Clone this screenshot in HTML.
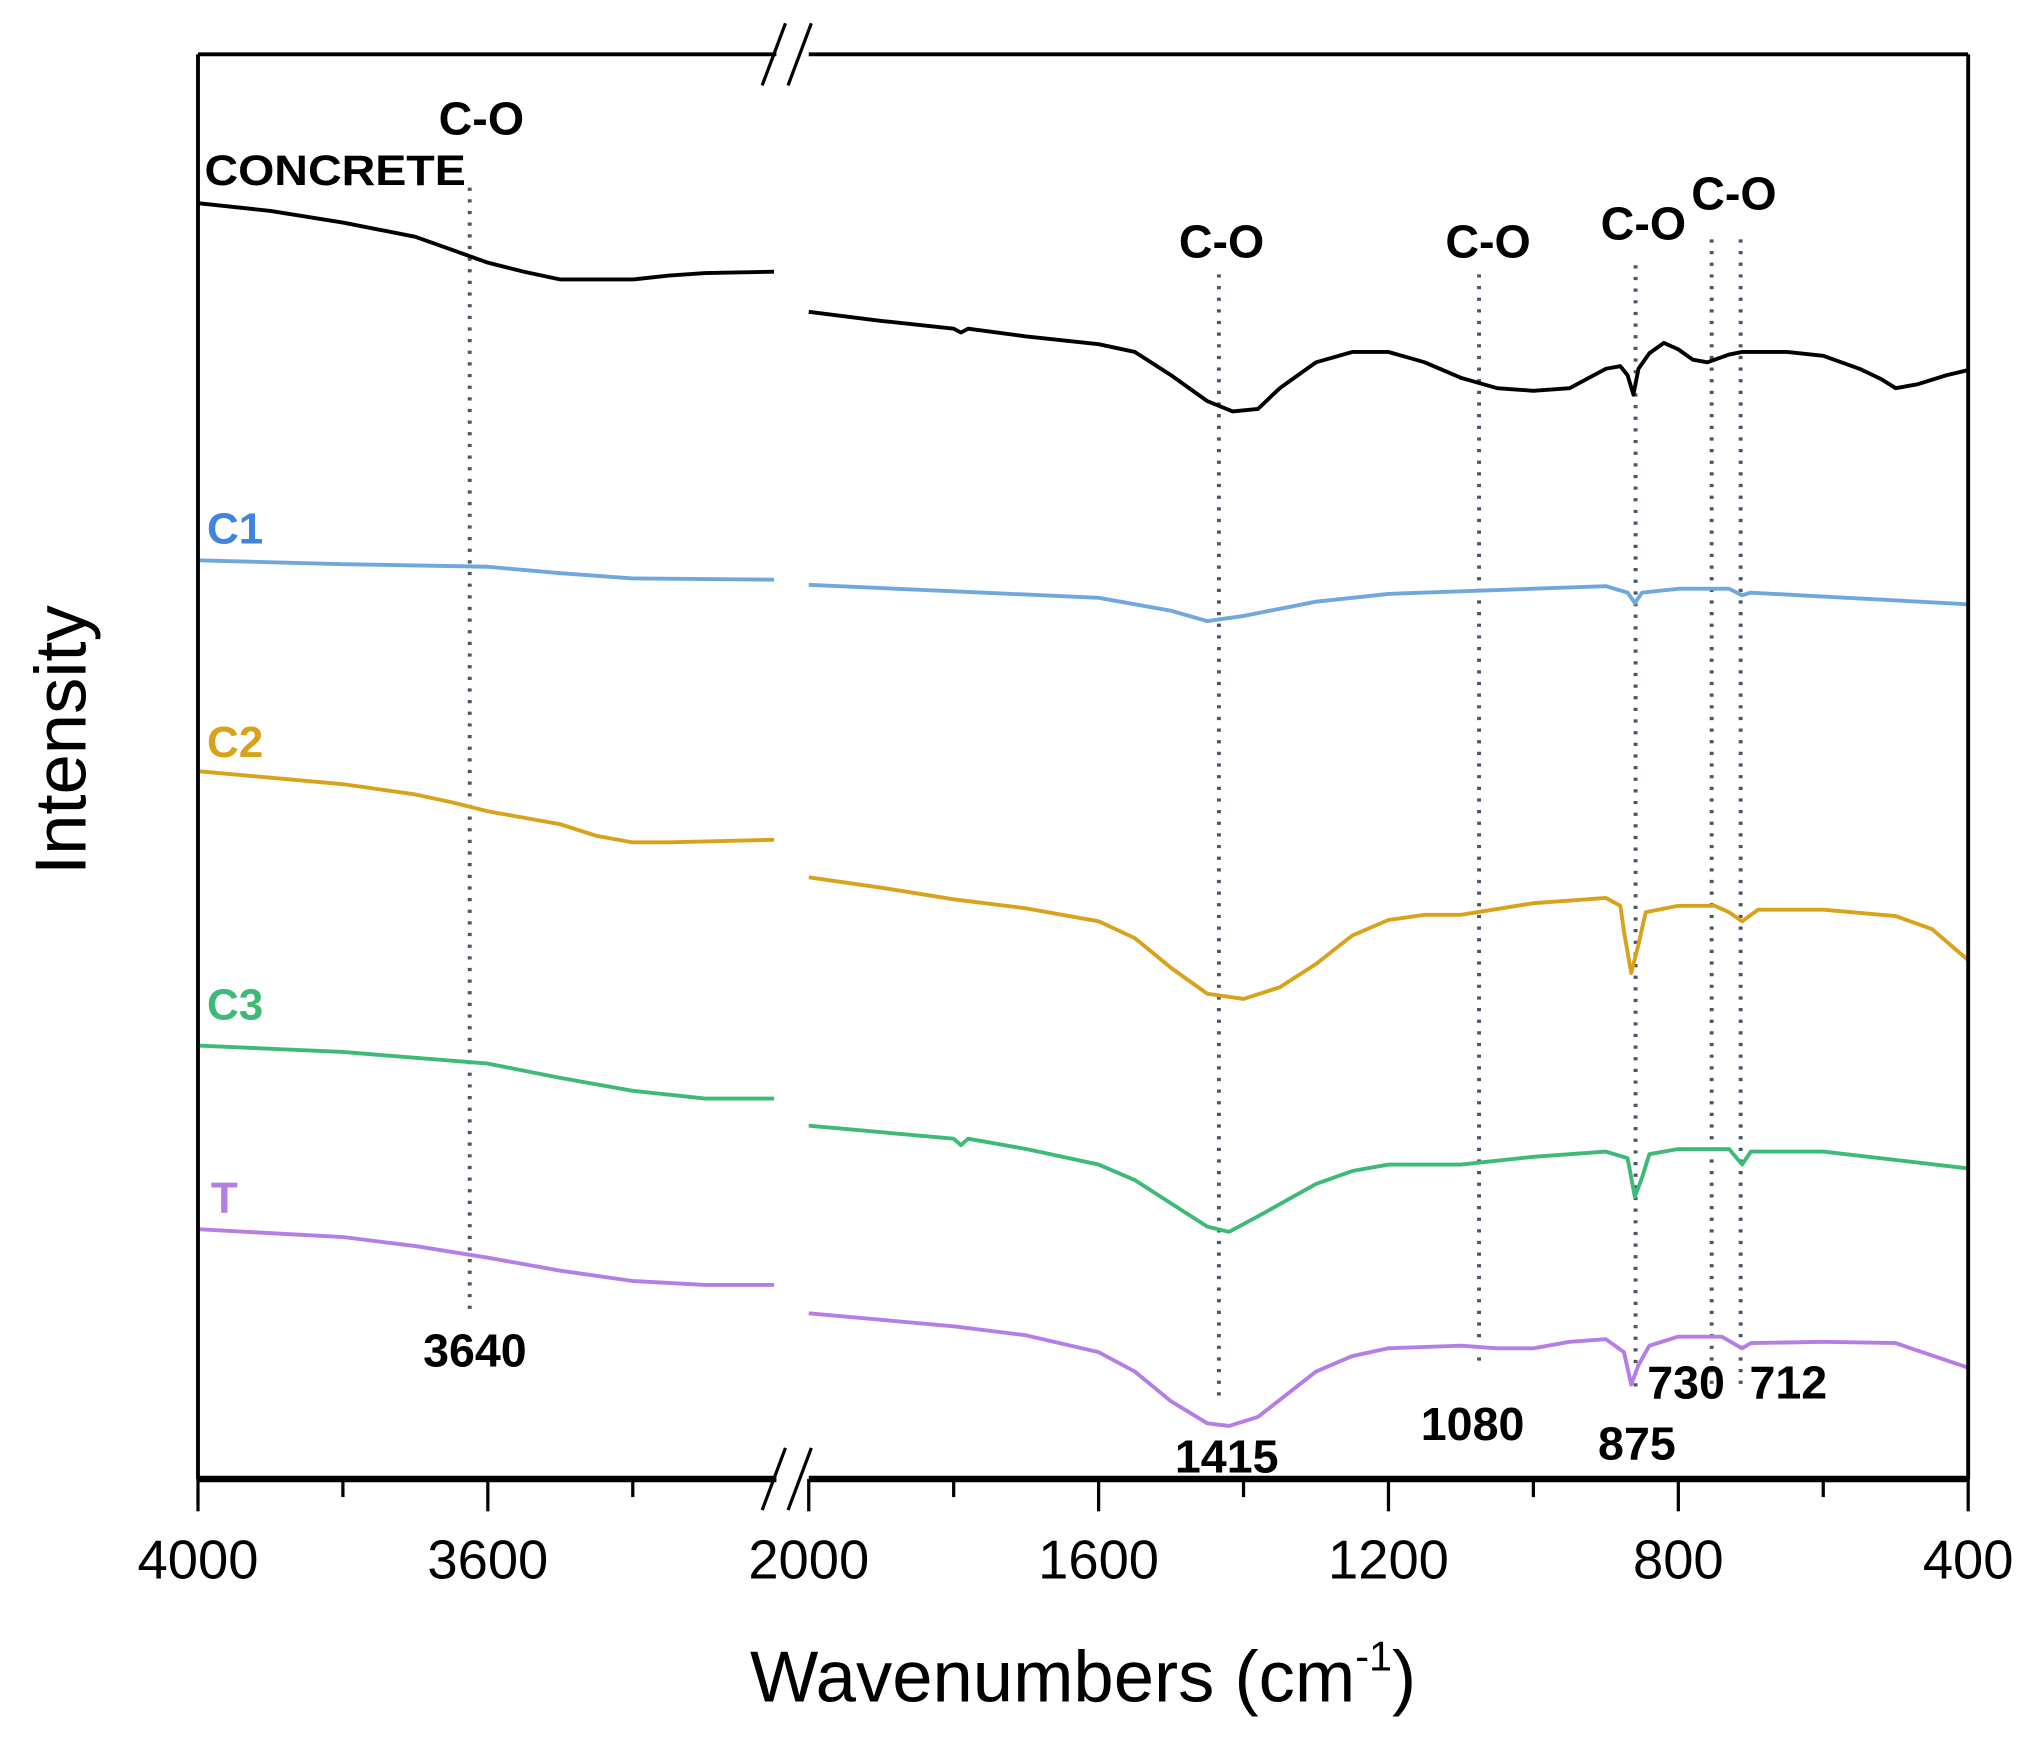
<!DOCTYPE html>
<html><head><meta charset="utf-8"><style>
html,body{margin:0;padding:0;background:#fff;}
svg{display:block;}
text{font-family:"Liberation Sans",sans-serif;}
</style></head><body>
<svg id="chart" width="2029" height="1752" viewBox="0 0 1568 1354" preserveAspectRatio="none" xmlns="http://www.w3.org/2000/svg">
<rect x="0" y="0" width="1568" height="1354" fill="#fff"/>
<g id="plot"></g>
</svg>
<script>
// x positions (wavenumbers) and intensity values (height above axis, arbitrary units)
const concreteLeftX = [4000,3900,3800,3700,3650,3600,3550,3500,3450,3400,3350,3300,3205];
const concreteLeftY = [986,980,971,960,950,940,933,927,927,927,930,932,933];
const concreteRightX = [2000,1900,1800,1790,1780,1700,1600,1550,1500,1450,1415,1380,1350,1300,1250,1200,1150,1100,1050,1000,950,900,880,870,862,855,840,820,800,780,760,730,712,650,600,550,520,500,470,430,400];
const concreteRightY = [902,895,889,886,889,883,877,871,853,833,825,827,843,863,871,871,863,851,843,841,843,858,860,853,838,858,870,878,873,865,863,869,871,871,868,858,850,843,846,853,857];
const c1LeftX = [4000,3800,3600,3500,3400,3205];
const c1LeftY = [710,707,705,700,696,695];
const c1RightX = [2000,1800,1600,1500,1450,1400,1300,1200,1000,900,870,860,850,800,730,712,700,600,400];
const c1RightY = [691,686,681,671,663,667,678,684,688,690,685,677,685,688,688,683,685,682,676];
const c2LeftX = [4000,3900,3800,3700,3650,3600,3500,3450,3400,3350,3205];
const c2LeftY = [547,542,537,529,523,516,506,497,492,492,494];
const c2RightX = [2000,1900,1800,1700,1600,1550,1500,1450,1400,1350,1300,1250,1200,1150,1100,1000,900,880,875,865,855,845,800,750,730,712,690,600,500,450,400];
const c2RightY = [465,457,448,441,431,418,395,375,371,380,398,420,432,436,436,445,449,443,423,391,413,438,443,443,438,431,440,440,435,425,401];
const c3LeftX = [4000,3800,3600,3500,3400,3300,3205];
const c3LeftY = [335,330,321,310,300,294,294];
const c3RightX = [2000,1800,1790,1780,1700,1600,1550,1500,1450,1420,1380,1300,1250,1200,1100,1000,900,870,860,850,840,800,730,712,700,600,400];
const c3RightY = [273,263,258,263,255,243,231,213,195,191,203,228,238,243,243,249,253,248,218,233,251,255,255,243,253,253,240];
const tLeftX = [4000,3800,3700,3600,3500,3400,3300,3205];
const tLeftY = [193,187,180,171,161,153,150,150];
const tRightX = [2000,1800,1700,1600,1550,1500,1450,1420,1380,1300,1250,1200,1100,1050,1000,950,900,875,865,855,840,800,740,712,700,600,500,400];
const tRightY = [128,118,111,98,83,60,43,41,48,83,95,101,103,101,101,106,108,98,73,88,103,110,110,101,105,106,105,86];
const tickLabelsX = ["4000","3600","2000","1600","1200","800","400"];
const tickValuesX = [4000,3600,2000,1600,1200,800,400];
const minorTicksX = [3800,3400,1800,1400,1000,600];
const peakLines = [3625,1434,1075,859,754,714];

const NS = "http://www.w3.org/2000/svg";
const L=153,R=1521,T=42,B=1143,BRK1=600,BRK2=625;
const pxPer = 0.56;
function xScale(w){ return w>2500 ? L+(4000-w)*pxPer : BRK2+(2000-w)*pxPer; }
function yScale(v){ return B - v; }
const g = document.getElementById('plot');
function mk(tag, attrs, parent){ const e=document.createElementNS(NS,tag); for(const k in attrs) e.setAttribute(k,attrs[k]); (parent||g).appendChild(e); return e; }

peakLines.forEach(function(w,i){
  const y1 = i===0 ? 145 : (i<3?212:(i===3?205:185));
  const y2 = i===0 ? 1015 : (i===1?1085:(i===2?1055:1075));
  const ln = mk('line',{x1:xScale(w),x2:xScale(w),y1:y1,y2:y2,stroke:'#4a5568','stroke-width':3,'stroke-dasharray':'2.5 6.5','stroke-linecap':'butt'});
  
  
});

function series(xs, ys, color, name){
  const d = xs.map(function(w,i){ return (i?'L':'M')+xScale(w).toFixed(1)+' '+yScale(ys[i]).toFixed(1); }).join(' ');
  const p = mk('path',{d:d,fill:'none',stroke:color,'stroke-width':3,'stroke-linejoin':'round'});
  
  
}
series(concreteLeftX,concreteLeftY,'#000','concrete-line-left');
series(concreteRightX,concreteRightY,'#000','concrete-line-right');
series(c1LeftX,c1LeftY,'#6fa8dc','c1-line-left');
series(c1RightX,c1RightY,'#6fa8dc','c1-line-right');
series(c2LeftX,c2LeftY,'#d9a21b','c2-line-left');
series(c2RightX,c2RightY,'#d9a21b','c2-line-right');
series(c3LeftX,c3LeftY,'#3dba78','c3-line-left');
series(c3RightX,c3RightY,'#3dba78','c3-line-right');
series(tLeftX,tLeftY,'#b57ee6','t-line-left');
series(tRightX,tRightY,'#b57ee6','t-line-right');

const fr=[[L,T,BRK1,T,3],[BRK2,T,R,T,3],[L,B,BRK1,B,5],[BRK2,B,R,B,5],[L,T,L,B,3],[R,T,R,B,3]];
fr.forEach(function(f){ const e=mk('line',{x1:f[0],y1:f[1],x2:f[2],y2:f[3],stroke:'#000','stroke-width':f[4]});
    });
[[T],[B]].forEach(function(a){ [0,1].forEach(function(k){
  const x=598+k*20; const e=mk('line',{x1:x-9,y1:a[0]+24,x2:x+9,y2:a[0]-24,stroke:'#000','stroke-width':2.5});
    }); });
tickValuesX.forEach(function(w,i){
  const x=xScale(w);
  const t=mk('line',{x1:x,x2:x,y1:B,y2:B+25,stroke:'#000','stroke-width':2.5});
   
  const lb=mk('text',{x:x,y:1220,'font-size':42,'text-anchor':'middle',fill:'#000'});
  lb.textContent=tickLabelsX[i];
   
});
minorTicksX.forEach(function(w){
  const x=xScale(w);
  const t=mk('line',{x1:x,x2:x,y1:B,y2:B+14,stroke:'#000','stroke-width':2.5});
   
});
</script>
<svg style="position:absolute;left:0;top:0" width="2029" height="1752" viewBox="0 0 1568 1354" preserveAspectRatio="none" xmlns="http://www.w3.org/2000/svg">
<g font-family="Liberation Sans, sans-serif" font-weight="bold">
<text x="158" y="143" font-size="33" fill="#000" textLength="202" lengthAdjust="spacingAndGlyphs">CONCRETE</text>
<text x="160" y="420" font-size="34" fill="#3d85e0">C1</text>
<text x="160" y="585" font-size="34" fill="#d9a21b">C2</text>
<text x="160" y="788" font-size="34" fill="#3dba78">C3</text>
<text x="163" y="937" font-size="34" fill="#b57ee6">T</text>
<g font-size="36" fill="#000" text-anchor="middle">
<text x="372" y="104">C-O</text>
<text x="944" y="199">C-O</text>
<text x="1150" y="199">C-O</text>
<text x="1270" y="185">C-O</text>
<text x="1340" y="162">C-O</text>
<text x="367" y="1056">3640</text>
<text x="948" y="1138">1415</text>
<text x="1138" y="1113">1080</text>
<text x="1265" y="1128">875</text>
<text x="1303" y="1081">730</text>
<text x="1382" y="1081">712</text>
</g>
</g>
<text x="837" y="1315" font-size="56" text-anchor="middle" fill="#000" font-family="Liberation Sans, sans-serif">Wavenumbers (cm<tspan font-size="32" dy="-24">-1</tspan><tspan dy="24">)</tspan></text>
<text transform="translate(66,572) rotate(-90)" font-size="56" text-anchor="middle" fill="#000" font-family="Liberation Sans, sans-serif">Intensity</text>
</svg>
</body></html>
